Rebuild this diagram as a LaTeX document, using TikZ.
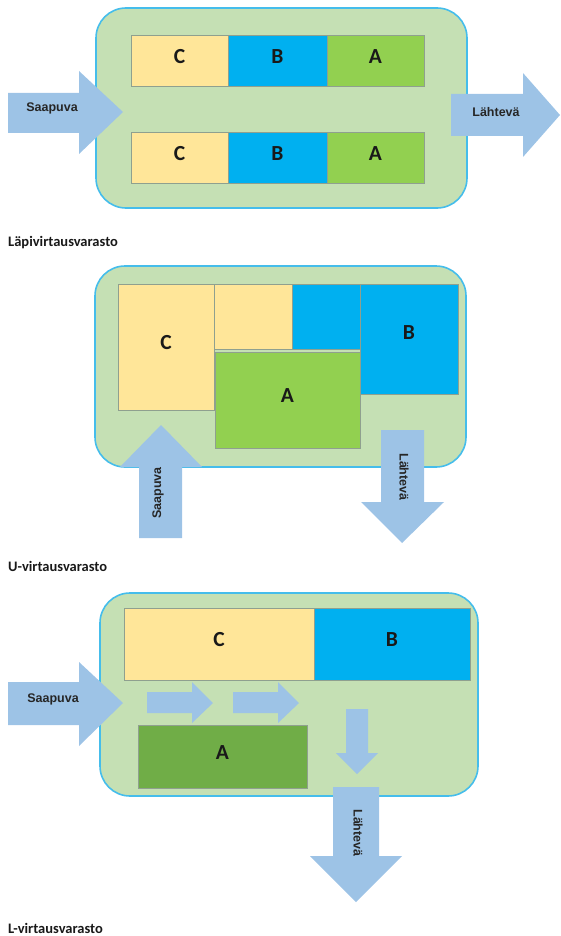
\documentclass[tikz,border=0pt]{standalone}
\usepackage{fontspec}
\setmainfont{Carlito}
\newfontfamily\arrowfont{Liberation Sans}
\begin{document}
\begin{tikzpicture}[x=1pt,y=-1pt,
  panel/.style={fill=panelgreen,draw=panelblue,line width=1.6pt,rounded corners=30pt},
  cell/.style={draw=cellgray,line width=0.9pt},
  blockarrow/.style={fill=arrowblue},
  boxlabel/.style={font=\bfseries\fontsize{21.5}{21.5}\selectfont,text=black!90,inner sep=0pt,yshift=4pt},
  arrowlabel/.style={font=\arrowfont\bfseries\fontsize{12.5}{12.5}\selectfont,text=black!85,inner sep=0pt},
  caption/.style={font=\bfseries\fontsize{14.5}{14.5}\selectfont,anchor=west,inner sep=0pt,text=black!90}]
\definecolor{panelgreen}{HTML}{C5E0B4}
\definecolor{panelblue}{HTML}{45BDEB}
\definecolor{cellgray}{HTML}{8FA08F}
\definecolor{yellowbox}{HTML}{FFE699}
\definecolor{bluebox}{HTML}{00B0F0}
\definecolor{greenbox}{HTML}{92D050}
\definecolor{darkgreenbox}{HTML}{70AD47}
\definecolor{arrowblue}{HTML}{9DC3E6}

\useasboundingbox (0,0) rectangle (560,936);

% ---------- flow-through warehouse ----------
\draw[panel] (96,8) rectangle (467,208);
\foreach \y/\r in {35/t,132/b}{
  \draw[cell,fill=yellowbox] (131,\y) rectangle (228,\y+51) node[midway,boxlabel] (c\r) {C};
  \draw[cell,fill=bluebox]   (228,\y) rectangle (327,\y+51) node[midway,boxlabel] (b\r) {B};
  \draw[cell,fill=greenbox]  (327,\y) rectangle (424,\y+51) node[midway,boxlabel] (a\r) {A};
}
\fill[blockarrow] (8,93) -- (79,93) -- (79,71) -- (123,112) -- (79,154) -- (79,133) -- (8,133) -- cycle;
\node[arrowlabel] (in1) at (52,108) {Saapuva};
\fill[blockarrow] (451,94) -- (523,94) -- (523,73) -- (560,115) -- (523,157) -- (523,136) -- (451,136) -- cycle;
\node[arrowlabel] (out1) at (496,112) {Lähtevä};
\node[caption] (cap1) at (8,243) {Läpivirtausvarasto};

% ---------- U-flow warehouse ----------
\draw[panel] (95,266) rectangle (466,467);
\draw[cell,fill=yellowbox] (118,284) rectangle (214,410) node[midway,boxlabel] (cU) {C};
\draw[cell,fill=yellowbox] (214,284) rectangle (292,349);
\draw[cell,fill=bluebox]   (292,284) rectangle (360,349);
\draw[cell,fill=bluebox]   (360,284) rectangle (458,394) node[midway,boxlabel,yshift=2pt] (bU) {B};
\draw[cell,fill=greenbox]  (215,352) rectangle (360,448) node[midway,boxlabel] (aU) {A};
\fill[blockarrow] (139,538) -- (139,467) -- (120,467) -- (161,425) -- (202,467) -- (182,467) -- (182,538) -- cycle;
\node[arrowlabel,rotate=90] (in2) at (158,493) {Saapuva};
\fill[blockarrow] (381,430) -- (424,430) -- (424,502) -- (444,502) -- (402,543) -- (361,502) -- (381,502) -- cycle;
\node[arrowlabel,rotate=-90] (out2) at (404,477) {Lähtevä};
\node[caption] (cap2) at (8,566) {U-virtausvarasto};

% ---------- L-flow warehouse ----------
\draw[panel] (100,593) rectangle (478,796);
\draw[cell,fill=yellowbox]    (124,608) rectangle (314,680) node[midway,boxlabel] (cL) {C};
\draw[cell,fill=bluebox]      (314,608) rectangle (470,680) node[midway,boxlabel] (bL) {B};
\draw[cell,fill=darkgreenbox] (138,725) rectangle (307,788) node[midway,boxlabel] (aL) {A};
\fill[blockarrow] (8,682) -- (79,682) -- (79,662) -- (123,703) -- (79,746) -- (79,725) -- (8,725) -- cycle;
\node[arrowlabel] (in3) at (53,699) {Saapuva};
\foreach \x in {147,233}{
  \fill[blockarrow] (\x,692) -- (\x+45,692) -- (\x+45,682) -- (\x+66,703) -- (\x+45,723) -- (\x+45,713) -- (\x,713) -- cycle;
}
\fill[blockarrow] (346,709) -- (368,709) -- (368,753) -- (378,753) -- (357,774) -- (336,753) -- (346,753) -- cycle;
\fill[blockarrow] (333,787) -- (379,787) -- (379,856) -- (402,856) -- (356,902) -- (310,856) -- (333,856) -- cycle;
\node[arrowlabel,rotate=-90] (out3) at (358,833) {Lähtevä};
\node[caption] (cap3) at (8,928) {L-virtausvarasto};
\end{tikzpicture}
\end{document}
